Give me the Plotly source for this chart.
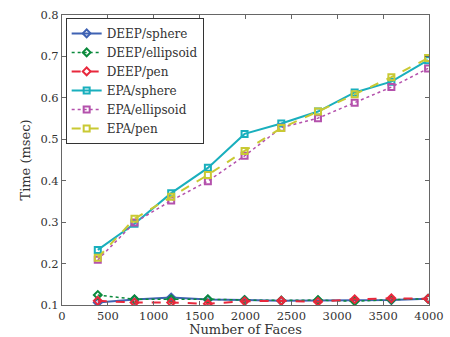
import plotly.graph_objects as go

faces = [390, 790, 1190, 1590, 1990, 2390, 2790, 3190, 3590, 3990]

deep_sphere = [0.106, 0.113, 0.118, 0.113, 0.112, 0.110, 0.111, 0.111, 0.112, 0.115]
deep_ellipsoid = [0.124, 0.114, 0.114, 0.114, 0.112, 0.111, 0.112, 0.109, 0.113, 0.115]
deep_pen = [0.110, 0.106, 0.106, 0.103, 0.109, 0.110, 0.108, 0.114, 0.116, 0.115]
epa_sphere = [0.233, 0.296, 0.370, 0.431, 0.513, 0.538, 0.567, 0.613, 0.639, 0.691]
epa_ellipsoid = [0.209, 0.299, 0.352, 0.399, 0.460, 0.528, 0.551, 0.588, 0.626, 0.671]
epa_pen = [0.214, 0.308, 0.361, 0.414, 0.472, 0.527, 0.567, 0.609, 0.650, 0.696]

series = [
    ("DEEP/sphere", deep_sphere, "#3f62b3", "solid", "diamond-open", 2),
    ("DEEP/ellipsoid", deep_ellipsoid, "#0b8a3c", "dot", "diamond-open", 1.5),
    ("DEEP/pen", deep_pen, "#e8283c", "dash", "diamond-open", 2),
    ("EPA/sphere", epa_sphere, "#19afbd", "solid", "square-open", 2),
    ("EPA/ellipsoid", epa_ellipsoid, "#b451ac", "dot", "square-open", 1.5),
    ("EPA/pen", epa_pen, "#c9c933", "dash", "square-open", 2),
]

fig = go.Figure()
for name, vals, color, dash, sym, w in series:
    fig.add_trace(go.Scatter(
        x=faces, y=vals, name=name, mode="lines+markers",
        line=dict(color=color, dash=dash, width=w),
        marker=dict(symbol=sym, size=6, color=color, line=dict(width=2, color=color)),
    ))

font = "DejaVu Serif, Liberation Serif, serif"
fig.update_layout(
    width=450, height=337,
    margin=dict(l=62, r=21, t=15, b=32, autoexpand=False),
    paper_bgcolor="white", plot_bgcolor="white",
    font=dict(family=font, size=12, color="#333"),
    showlegend=True,
    legend=dict(
        x=0.01, y=0.99, xanchor="left", yanchor="top",
        bgcolor="white", bordercolor="#333", borderwidth=1,
        font=dict(family=font, size=12, color="#333"),
        tracegroupgap=0, itemwidth=30,
    ),
    xaxis=dict(
        range=[0, 4000], tickvals=[0, 500, 1000, 1500, 2000, 2500, 3000, 3500, 4000],
        ticks="inside", ticklen=4, tickcolor="#666", mirror="ticks",
        showline=True, linecolor="#666", linewidth=1, showgrid=False, zeroline=False,
        title=dict(text="Number of Faces", font=dict(size=13), standoff=2),
        tickfont=dict(size=11.5), automargin=False,
    ),
    yaxis=dict(
        range=[0.1, 0.8], tickvals=[0.1, 0.2, 0.3, 0.4, 0.5, 0.6, 0.7, 0.8],
        ticktext=["0.1", "0.2", "0.3", "0.4", "0.5", "0.6", "0.7", "0.8"],
        ticks="inside", ticklen=4, tickcolor="#666", mirror="ticks",
        showline=True, linecolor="#666", linewidth=1, showgrid=False, zeroline=False,
        title=dict(text="Time (msec)", font=dict(size=13), standoff=6),
        tickfont=dict(size=11.5), automargin=False,
    ),
)
fig.write_html("out.html", config={"displayModeBar": False},
               post_script="document.body.style.margin='0px';")
